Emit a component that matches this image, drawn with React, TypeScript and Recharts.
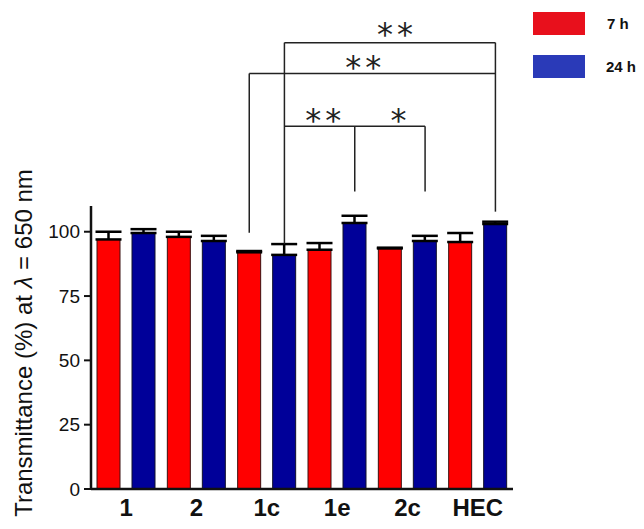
import React from "react";
import {
  BarChart,
  Bar,
  XAxis,
  YAxis,
  ErrorBar,
  ReferenceLine,
  ReferenceDot,
} from "recharts";

const categories = ["1", "2", "1c", "1e", "2c", "HEC"];
const h7 = [97, 98, 92, 93, 93.5, 96];
const h24 = [99.5, 96.4, 91, 103.4, 96.4, 103];
const h7Err = [3, 2, 0.5, 2.6, 0.3, 3.5];
const h24Err = [1.5, 2, 4.2, 2.8, 2, 0.9];
const yTicks = [0, 25, 50, 75, 100];

// significance brackets, x in category units (red bar = i + 0.25, blue bar = i + 0.75)
const hLines = [
  { x1: 2.75, x2: 5.75, y: 173.5 },
  { x1: 2.25, x2: 5.75, y: 161.5 },
  { x1: 2.75, x2: 4.75, y: 141 },
];
const vLines = [
  { x: 2.75, y1: 173.5, y2: 95.3 },
  { x: 2.25, y1: 161.5, y2: 99.6 },
  { x: 5.75, y1: 173.5, y2: 107.8 },
  { x: 3.75, y1: 141, y2: 115.6 },
  { x: 4.75, y1: 141, y2: 115.6 },
];
const stars = [
  { x: 4.35, y: 177, text: "**" },
  { x: 3.9, y: 164, text: "**" },
  { x: 3.33, y: 143.5, text: "**" },
  { x: 4.4, y: 143.5, text: "*" },
];

const data = categories.map((name, i) => ({
  name,
  slot: i + 0.5,
  h7: h7[i],
  h24: h24[i],
  e7: [0, h7Err[i]],
  e24: [0, h24Err[i]],
}));

const RED = "#ff0000";
const BLUE = "#000099";
const FONT = "'Liberation Sans', Arial, sans-serif";

function YLabel() {
  return (
    <text
      x={23}
      y={343}
      transform="rotate(-90 23 343)"
      textAnchor="middle"
      dominantBaseline="central"
      fontSize={24}
      fontFamily={FONT}
      fill="#111"
    >
      Transmittance (%) at <tspan fontStyle="italic">λ</tspan> = 650 nm
    </text>
  );
}

export default function App() {
  return (
    <div style={{ position: "absolute", left: 0, top: 0, width: 644, height: 529, background: "#fff" }}>
      <BarChart
        width={644}
        height={529}
        data={data}
        margin={{ top: 206, right: 131, bottom: 0, left: 0 }}
        barSize={23}
        barGap={12}
      >
        <XAxis
          dataKey="name"
          height={40}
          axisLine={{ stroke: "#111", strokeWidth: 2.5 }}
          tickLine={false}
          tickSize={6}
          tickMargin={4}
          tick={{ fontSize: 24, fontWeight: "bold", fill: "#111", fontFamily: FONT }}
        />
        <XAxis
          xAxisId="pos"
          dataKey="slot"
          type="number"
          scale="linear"
          domain={[0, 6]}
          allowDataOverflow
          hide
        />
        <YAxis
          width={91}
          domain={[0, 110]}
          ticks={yTicks}
          interval={0}
          allowDataOverflow
          axisLine={{ stroke: "#111", strokeWidth: 2.5 }}
          tickLine={{ stroke: "#111", strokeWidth: 2 }}
          tickSize={7}
          tickMargin={4}
          tick={{ fontSize: 19, fill: "#111", fontFamily: FONT }}
          label={{ content: () => <YLabel /> }}
        />
        <Bar dataKey="h7" fill={RED} stroke="#3a1010" strokeWidth={1} isAnimationActive={false}>
          <ErrorBar dataKey="e7" direction="y" width={13} stroke="#000" strokeWidth={2.5} />
        </Bar>
        <Bar dataKey="h24" fill={BLUE} stroke="#10102a" strokeWidth={1} isAnimationActive={false}>
          <ErrorBar dataKey="e24" direction="y" width={13} stroke="#000" strokeWidth={2.5} />
        </Bar>
        {hLines.map((l, i) => (
          <ReferenceLine
            key={"h" + i}
            xAxisId="pos"
            segment={[
              { x: l.x1, y: l.y },
              { x: l.x2, y: l.y },
            ]}
            stroke="#222"
            strokeWidth={1.5}
            ifOverflow="visible"
          />
        ))}
        {vLines.map((l, i) => (
          <ReferenceLine
            key={"v" + i}
            xAxisId="pos"
            segment={[
              { x: l.x, y: l.y1 },
              { x: l.x, y: l.y2 },
            ]}
            stroke="#222"
            strokeWidth={1.5}
            ifOverflow="visible"
          />
        ))}
        {stars.map((s, i) => (
          <ReferenceDot
            key={"s" + i}
            xAxisId="pos"
            x={s.x}
            y={s.y}
            r={0}
            fill="none"
            stroke="none"
            ifOverflow="visible"
            label={{
              value: s.text,
              position: "center",
              fontSize: 32,
              fill: "#222",
              fontFamily: "'DejaVu Sans', sans-serif",
              letterSpacing: 4,
            }}
          />
        ))}
      </BarChart>
      <div style={{ position: "absolute", left: 533, top: 12, fontFamily: FONT, fontWeight: "bold", fontSize: 15, color: "#111" }}>
        <div style={{ display: "flex", alignItems: "center", height: 23 }}>
          <span style={{ display: "inline-block", width: 52, height: 23, background: "#e8101c" }} />
          <span style={{ marginLeft: 22 }}>7 h</span>
        </div>
        <div style={{ display: "flex", alignItems: "center", height: 23, marginTop: 20 }}>
          <span style={{ display: "inline-block", width: 52, height: 23, background: "#2a3ab8" }} />
          <span style={{ marginLeft: 21 }}>24 h</span>
        </div>
      </div>
    </div>
  );
}
